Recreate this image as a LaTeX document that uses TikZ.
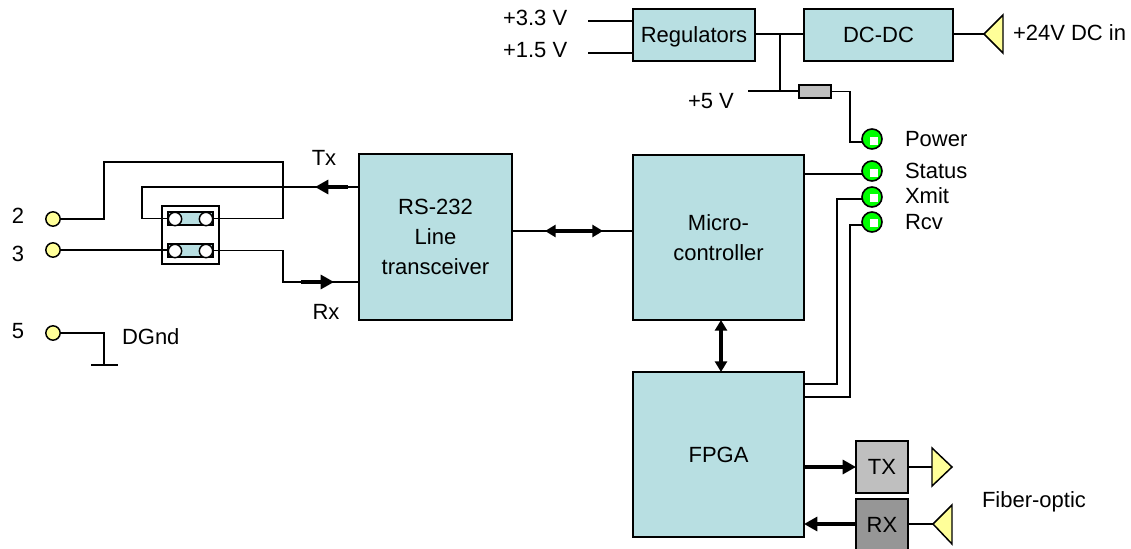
\documentclass[tikz,border=0pt]{standalone}
\usepackage{fontspec}
\setmainfont{Liberation Sans}
\usetikzlibrary{arrows.meta}

\tikzset{
	fio/.style={line width=1.1pt, black},
	caixa/.style={draw, line width=1.1pt, fill=caixacor, inner sep=0pt, outer sep=0pt, align=center},
	rotulo/.style={inner sep=0pt, outer sep=0pt},
	seta/.style={line width=2.3pt, -{Triangle[length=10pt,width=10.5pt]}},
	setadupla/.style={line width=2.3pt, {Triangle[length=8pt,width=9pt]}-{Triangle[length=8pt,width=9pt]}},
	borne/.style={circle, draw, line width=1.1pt, fill=amarelo, minimum size=10.75pt, inner sep=0pt, outer sep=0pt},
	furo/.style={circle, draw, line width=1.1pt, fill=white, minimum size=10pt, inner sep=0pt, outer sep=0pt},
	led/.style={circle, draw, line width=1.2pt, fill=green, minimum size=15pt, inner sep=0pt, outer sep=0pt},
	ledbrilho/.style={fill=white, minimum size=6.5pt, inner sep=0pt, outer sep=0pt},
	antena/.style={draw, line width=1.1pt, fill=amarelo}
}
\definecolor{caixacor}{HTML}{B8DFE2}
\definecolor{amarelo}{HTML}{FFFF99}

\begin{document}
\begin{tikzpicture}[x=0.75pt, y=-0.75pt, font=\fontsize{16.5}{22.5}\selectfont]
	\useasboundingbox (0, 0) rectangle (1131, 549);
	
	% Blocos principais
	\node[caixa, text depth=0pt, minimum width=91.5pt, minimum height=39pt] (reg) at (694, 35) {Regulators};
	\node[caixa, minimum width=111.75pt, minimum height=39pt] (dcdc) at (878.5, 35) {DC-DC};
	\node[caixa, minimum width=114.75pt, minimum height=124.5pt] (rs) at (435.5, 237) {RS-232\\Line\\transceiver};
	\node[caixa, minimum width=128.25pt, minimum height=123.75pt] (micro) at (718.5, 237.5) {Micro-\\controller};
	\node[caixa, minimum width=128.25pt, minimum height=123.75pt] (fpga) at (718.5, 454.5) {FPGA};
	\node[caixa, fill=black!25, minimum width=39pt, minimum height=39pt] (tx) at (882, 467) {TX};
	\node[caixa, fill=black!41, minimum width=39pt, minimum height=39pt] (rx) at (882, 525) {RX};
	\node[caixa, fill=black!25, minimum width=24pt, minimum height=9.75pt] (fusivel) at (815, 91.5) {};
	
	% Alimentacao
	\node[rotulo, anchor=west] (v33) at (503, 18) {+3.3 V};
	\node[rotulo, anchor=west] (v15) at (503, 50) {+1.5 V};
	\node[rotulo, anchor=west] (v5) at (688, 101) {+5 V};
	\node[rotulo, anchor=west] (dcin) at (1013, 33) {+24V DC in};
	\coordinate (p33) at (588, 21);
	\coordinate (p15) at (588, 53);
	\coordinate (p5) at (748, 91);
	\coordinate (nodo) at (780, 34);
	\coordinate (antdc) at (984, 34);
	\draw[fio] (p33) -- (p33 -| reg.west);
	\draw[fio] (p15) -- (p15 -| reg.west);
	\draw[fio] (nodo -| reg.east) -- (nodo -| dcdc.west);
	\draw[fio] (nodo) -- (nodo |- p5);
	\draw[fio] (p5) -- (p5 -| fusivel.west);
	\draw[fio] (antdc -| dcdc.east) -- (antdc);
	\draw[antena] (antdc) -- (1003, 15) -- (1003, 53) -- cycle;
	
	% LEDs
	\node[led] (power) at (872, 139) {};
	\node[led] (status) at (872, 171) {};
	\node[led] (xmit) at (872, 197) {};
	\node[led] (rcv) at (872, 222) {};
	\node[ledbrilho] (powerb) at (874, 141) {};
	\node[ledbrilho] (statusb) at (874, 173) {};
	\node[ledbrilho] (xmitb) at (874, 198) {};
	\node[ledbrilho] (rcvb) at (874, 223) {};
	\node[rotulo, anchor=west] (lpower) at (905, 139) {Power};
	\node[rotulo, anchor=west] (lstatus) at (905, 171) {Status};
	\node[rotulo, anchor=west] (lxmit) at (905, 196) {Xmit};
	\node[rotulo, anchor=west] (lrcv) at (905, 222) {Rcv};
	
	% Ligacoes dos LEDs
	\coordinate (cpower) at (850, 142);
	\coordinate (cstatus) at (804, 174);
	\coordinate (cxmit) at (837, 199);
	\coordinate (crcv) at (850, 225);
	\coordinate (fxmit) at (837, 384);
	\coordinate (frcv) at (850, 397);
	\draw[fio] (fusivel.east) -- (cpower |- fusivel.east) -- (cpower) -- (cpower -| power.west);
	\draw[fio] (cstatus) -- (cstatus -| status.west);
	\draw[fio] (fxmit -| fpga.east) -- (fxmit) -- (cxmit) -- (cxmit -| xmit.west);
	\draw[fio] (frcv -| fpga.east) -- (frcv) -- (crcv) -- (crcv -| rcv.west);
	
	% Barramentos
	\coordinate (b1) at (545, 231);
	\coordinate (b2) at (603, 231);
	\draw[fio] (b1 -| rs.east) -- (b1 -| micro.west);
	\draw[setadupla] (b1) -- (b2);
	\draw[setadupla] (micro.south -| 721, 320) -- (fpga.north -| 721, 372);
	
	% Fibra optica
	\coordinate (anttx) at (932, 467);
	\coordinate (antrx) at (933, 524);
	\draw[seta] (fpga.east |- tx) -- (tx.west);
	\draw[seta] (rx.west |- antrx) -- (fpga.east |- antrx);
	\draw[fio] (tx.east) -- (anttx);
	\draw[fio] (rx.east |- antrx) -- (antrx);
	\draw[antena] (anttx) -- (anttx |- 0, 448) -- (952, 467) -- (anttx |- 0, 486) -- cycle;
	\draw[antena] (antrx) -- (952, 505) -- (952, 544) -- cycle;
	\node[rotulo, anchor=west] (fibra) at (982, 502) {Fiber-optic};
	
	% Jumpers
	\node[draw, line width=1.1pt, minimum width=42.75pt, minimum height=43.5pt, inner sep=0pt, outer sep=0pt] (jumper) at (190.5, 235) {};
	\node[caixa, minimum width=33.75pt, minimum height=9.75pt] (jumpa) at (190.5, 218.5) {};
	\node[caixa, minimum width=33.75pt, minimum height=9.75pt] (jumpb) at (190.5, 250.5) {};
	\node[furo] (furoa1) at (175, 219) {};
	\node[furo] (furoa2) at (206, 219) {};
	\node[furo] (furob1) at (175, 251) {};
	\node[furo] (furob2) at (206, 251) {};
	
	% Conector serial
	\node[borne] (t2) at (53, 219) {};
	\node[borne] (t3) at (53, 250) {};
	\node[borne] (t5) at (53, 333) {};
	\node[rotulo] (l2) at (18, 216) {2};
	\node[rotulo] (l3) at (18, 254) {3};
	\node[rotulo] (l5) at (18, 331) {5};
	\node[rotulo, anchor=west] (dgnd) at (122, 337) {DGnd};
	\node[rotulo] (ltx) at (324, 158) {Tx};
	\node[rotulo] (lrx) at (326, 312) {Rx};
	
	% Fios do conector
	\coordinate (w2a) at (104, 162);
	\coordinate (w2b) at (283, 162);
	\coordinate (wtx) at (142, 187);
	\coordinate (wrx) at (283, 282);
	\coordinate (txi) at (348, 187);
	\coordinate (txf) at (315, 187);
	\coordinate (rxi) at (301, 282);
	\coordinate (rxf) at (334, 282);
	\draw[fio] (t2) -| (w2a) -- (w2b) |- (jumpa.east);
	\draw[fio] (rs.west |- wtx) -- (wtx) |- (jumpa.west);
	\draw[fio] (t3) -- (t3 -| jumpb.west);
	\draw[fio] (jumpb.east) -| (wrx) -- (wrx -| rs.west);
	\draw[seta] (txi) -- (txf);
	\draw[seta] (rxi) -- (rxf);
	
	% Terra
	\coordinate (gnd) at (104, 365);
	\draw[fio] (t5) -| (gnd);
	\draw[fio] (91, 365) -- (gnd) -- (118, 365);
\end{tikzpicture}
\end{document}
